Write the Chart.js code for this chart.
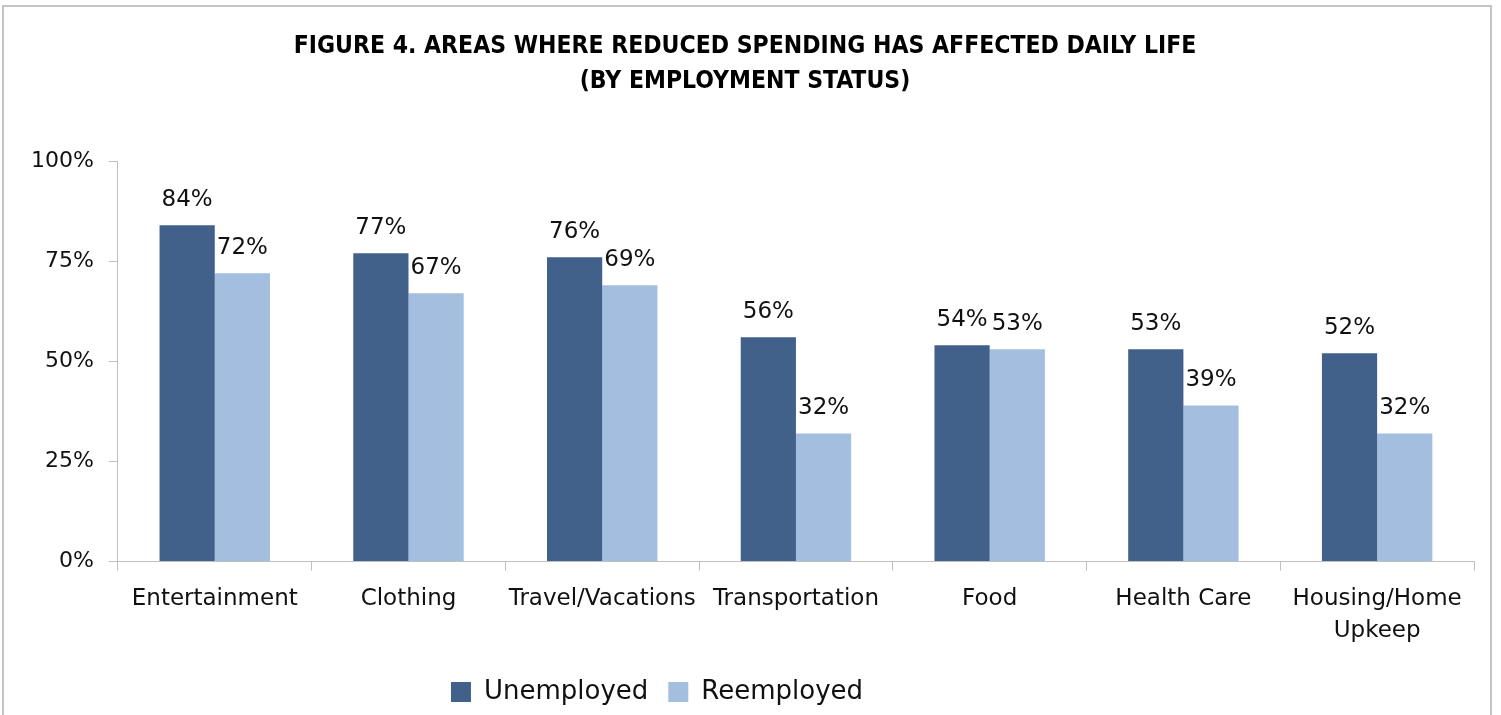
<!DOCTYPE html>
<html>
<head>
<meta charset="utf-8">
<script src="https://cdn.jsdelivr.net/npm/chart.js@4.4.1/dist/chart.umd.min.js"></script>
<style>
    html, body { margin: 0; padding: 0; background: #fff; }
    .chartbox { position: relative; width: 1501px; height: 715px; overflow: hidden; }
    .chartbox__frame { position: absolute; left: 2px; top: 5px; width: 1490px; height: 760px; border: 2px solid #c4c4c4; border-bottom: none; box-sizing: border-box; }
    #myChart { position: absolute; left: 0; top: 0; }
</style>
</head>
<body>
<div class="chartbox">
    <div class="chartbox__frame"></div>
    <canvas id="myChart" width="1501" height="715"></canvas>
</div>
<script>
var categories = ['Entertainment', 'Clothing', 'Travel/Vacations', 'Transportation', 'Food', 'Health Care', ['Housing/Home', 'Upkeep']];
var unemployed = [84, 77, 76, 56, 54, 53, 52];
var reemployed = [72, 67, 69, 32, 53, 39, 32];
var yTicks = [0, 25, 50, 75, 100];

var textFont = "'DejaVu Sans', sans-serif";

// value labels above each bar
var barLabels = {
    id: 'barLabels',
    afterDatasetsDraw: function (chart) {
        var ctx = chart.ctx;
        ctx.save();
        ctx.font = '23px ' + textFont;
        ctx.fillStyle = '#111';
        ctx.textAlign = 'center';
        ctx.textBaseline = 'middle';
        chart.data.datasets.forEach(function (dataset, i) {
            chart.getDatasetMeta(i).data.forEach(function (bar, index) {
                ctx.fillText(dataset.data[index] + '%', bar.x, bar.y - 25);
            });
        });
        ctx.restore();
    }
};

// legend sits a bit left of centre in the original
var legendShift = {
    id: 'legendShift',
    afterLayout: function (chart) {
        chart.legend.left -= 88;
        chart.legend.right -= 88;
    }
};

var ctx = document.getElementById('myChart').getContext('2d');
var myChart = new Chart(ctx, {
    type: 'bar',
    data: {
        labels: categories,
        datasets: [{
            label: 'Unemployed',
            data: unemployed,
            backgroundColor: '#41608a'
        }, {
            label: 'Reemployed',
            data: reemployed,
            backgroundColor: '#a3bedf'
        }]
    },
    options: {
        responsive: false,
        animation: false,
        layout: {
            padding: { left: 16, right: 27, top: 0, bottom: 0 }
        },
        datasets: {
            bar: { categoryPercentage: 0.57, barPercentage: 1 }
        },
        scales: {
            x: {
                grid: { drawOnChartArea: false, color: '#bfbfbf', tickLength: 9 },
                border: { color: '#bfbfbf' },
                ticks: {
                    color: '#111',
                    padding: 12,
                    maxRotation: 0,
                    autoSkip: false,
                    font: { family: textFont, size: 23, lineHeight: 1.4 }
                }
            },
            y: {
                min: 0,
                max: 100,
                afterBuildTicks: function (scale) {
                    scale.ticks = yTicks.map(function (v) { return { value: v }; });
                },
                grid: { drawOnChartArea: false, color: '#bfbfbf', tickLength: 9 },
                border: { color: '#bfbfbf' },
                ticks: {
                    color: '#111',
                    padding: 15,
                    font: { family: textFont, size: 22 },
                    callback: function (value) { return value + '%'; }
                }
            }
        },
        plugins: {
            title: {
                display: true,
                text: ['FIGURE 4. AREAS WHERE REDUCED SPENDING HAS AFFECTED DAILY LIFE', '(BY EMPLOYMENT STATUS)'],
                color: '#000',
                font: { family: "'DejaVu Sans Condensed', 'DejaVu Sans', sans-serif", size: 24.5, weight: 'bold', lineHeight: 1.43 },
                padding: { top: 29, bottom: 62 }
            },
            legend: {
                position: 'bottom',
                labels: {
                    color: '#111',
                    boxWidth: 20,
                    boxHeight: 20,
                    padding: 20,
                    font: { family: textFont, size: 26 }
                }
            },
            tooltip: { enabled: false }
        }
    },
    plugins: [barLabels, legendShift]
});
</script>
</body>
</html>
